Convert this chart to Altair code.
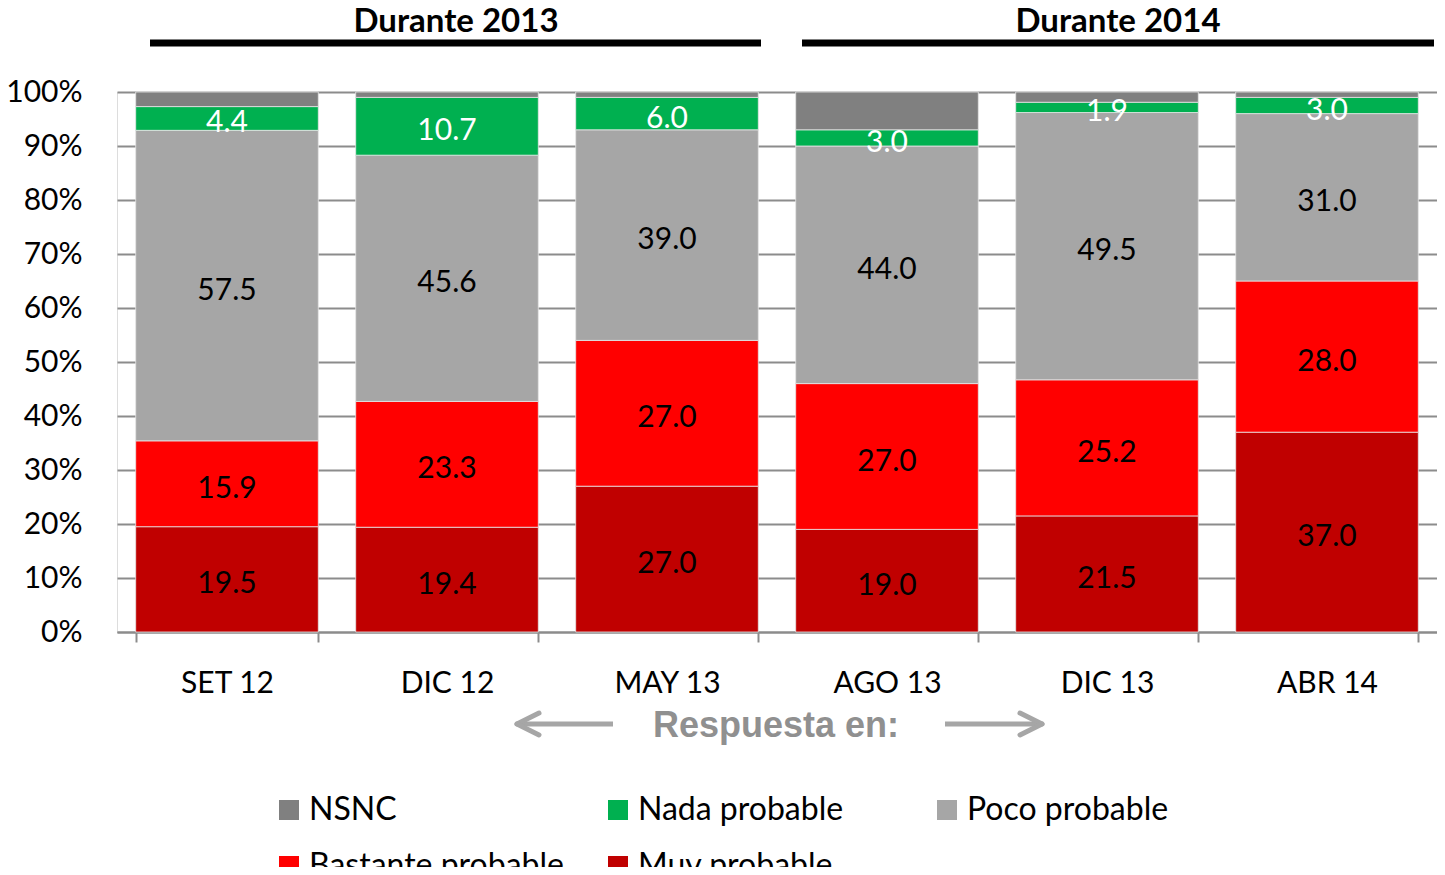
import altair as alt
import pandas as pd

categories = ["SET 12", "DIC 12", "MAY 13", "AGO 13", "DIC 13", "ABR 14"]
series = ["NSNC", "Nada probable", "Poco probable", "Bastante probable", "Muy probable"]
colors = ["#808080", "#00b050", "#a6a6a6", "#ff0000", "#c00000"]

muy = [19.5, 19.4, 27.0, 19.0, 21.5, 37.0]
bastante = [15.9, 23.3, 27.0, 27.0, 25.2, 28.0]
poco = [57.5, 45.6, 39.0, 44.0, 49.5, 31.0]
nada = [4.4, 10.7, 6.0, 3.0, 1.9, 3.0]
nsnc = [2.7, 1.0, 1.0, 7.0, 1.9, 1.0]

stack_order = [
    ("Muy probable", muy, "black", True),
    ("Bastante probable", bastante, "black", True),
    ("Poco probable", poco, "black", True),
    ("Nada probable", nada, "white", True),
    ("NSNC", nsnc, "black", False),
]

rows = []
for i, c in enumerate(categories):
    base = 0.0
    for name, vals, tcol, show in stack_order:
        v = vals[i]
        rows.append(dict(cat=c, serie=name, value=v, start=base, end=base + v,
                         mid=base + v / 2, show=show, label=f"{v:.1f}", tcol=tcol))
        base += v
df = pd.DataFrame(rows)

FONT = "Lato"
GRID = "#8c8c8c"

xenc = alt.X("cat:N", sort=categories,
             scale=alt.Scale(paddingInner=0.17, paddingOuter=0.085),
             axis=alt.Axis(title=None, labelAngle=0, labelFont=FONT, labelFontSize=30,
                           labelColor="black", labelPadding=26, tickBand="extent",
                           tickSize=10, tickColor=GRID, tickWidth=2,
                           domainColor=GRID, domainWidth=2, grid=False))

bars = alt.Chart(df).mark_bar(stroke="#e6e6e6", strokeWidth=0.8).encode(
    x=xenc,
    y=alt.Y("start:Q", scale=alt.Scale(domain=[0, 100], nice=False),
            axis=alt.Axis(title=None, values=list(range(0, 101, 10)),
                          labelExpr="datum.value + '%'", labelFont=FONT,
                          labelFontSize=30, labelColor="black", labelPadding=35,
                          ticks=False, domain=False, grid=True,
                          gridColor=GRID, gridWidth=2)),
    y2="end:Q",
    color=alt.Color("serie:N", scale=alt.Scale(domain=series, range=colors),
                    legend=alt.Legend(orient="none", legendX=156, legendY=702,
                                      direction="horizontal",
                                      columns=3, gridAlign="all", title=None,
                                      symbolType="square", symbolSize=400,
                                      symbolStrokeWidth=0, labelFont=FONT,
                                      labelFontSize=32, labelColor="black",
                                      labelOffset=4, labelLimit=600,
                                      columnPadding=38, rowPadding=24, padding=0)),
)

labels = alt.Chart(df).transform_filter("datum.show").mark_text(
    font=FONT, fontSize=30, dy=5).encode(
    x=alt.X("cat:N", sort=categories),
    y=alt.Y("mid:Q"),
    text="label:N",
    color=alt.Color("tcol:N", scale=None),
)

one = pd.DataFrame({"a": [0]})

def txt(s, x, y, size, font, color, weight="bold"):
    return alt.Chart(one).mark_text(text=s, font=font, fontSize=size, fontWeight=weight,
                                    color=color, baseline="alphabetic", align="center").encode(
        x=alt.value(x), y=alt.value(y))

def seg(x1, y1, x2, y2, color, w, cap="butt"):
    return alt.Chart(one).mark_rule(color=color, strokeWidth=w, strokeCap=cap).encode(
        x=alt.value(x1), y=alt.value(y1), x2=alt.value(x2), y2=alt.value(y2))

ox, oy = 117, 92
ARROW = "#a6a6a6"
deco = [
    txt("Durante 2013", 456 - ox, 32 - oy, 33, FONT, "black"),
    txt("Durante 2014", 1118 - ox, 32 - oy, 33, FONT, "black"),
    seg(150 - ox, 43 - oy, 761 - ox, 43 - oy, "black", 7),
    seg(802 - ox, 43 - oy, 1434 - ox, 43 - oy, "black", 7),
    txt("Respuesta en:", 776 - ox, 737 - oy, 36, "Liberation Sans", "#909090"),
    seg(518 - ox, 724 - oy, 613 - ox, 724 - oy, ARROW, 5),
    seg(517 - ox, 724 - oy, 539 - ox, 713 - oy, ARROW, 5, "round"),
    seg(517 - ox, 724 - oy, 539 - ox, 735 - oy, ARROW, 5, "round"),
    seg(945 - ox, 724 - oy, 1041 - ox, 724 - oy, ARROW, 5),
    seg(1042 - ox, 724 - oy, 1020 - ox, 713 - oy, ARROW, 5, "round"),
    seg(1042 - ox, 724 - oy, 1020 - ox, 735 - oy, ARROW, 5, "round"),
]

chart = alt.layer(bars, labels, *deco).properties(
    width=1320, height=540,
    padding={"left": 109, "top": 84, "right": 0, "bottom": 235},
    autosize=alt.AutoSizeParams(type="none"),
).configure_view(stroke=None).configure(background="white")

chart.save("out.html", embed_options={"renderer": "svg", "actions": False})
